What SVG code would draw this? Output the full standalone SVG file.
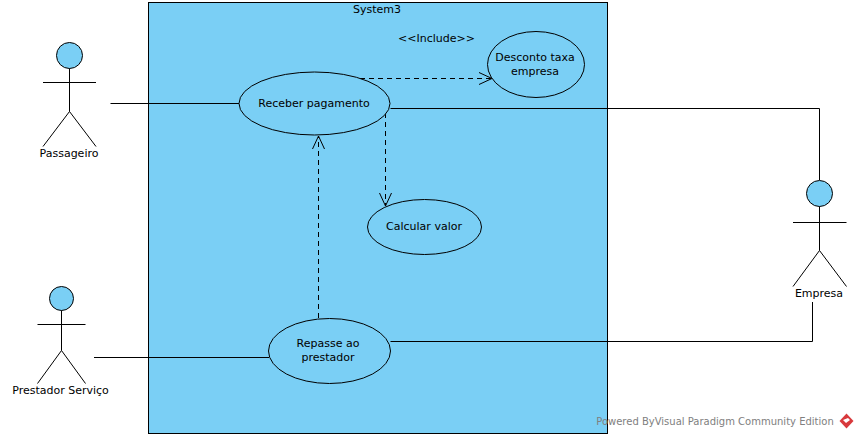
<svg xmlns="http://www.w3.org/2000/svg" width="858" height="438" viewBox="0 0 858 438">
<defs>
<style>
text{font-family:"DejaVu Sans",sans-serif;font-size:11px;fill:#000;text-anchor:middle}
.shape{fill:#7acff5;stroke:#000;stroke-width:1}
.stick{fill:none;stroke:#000;stroke-width:1}
.line{fill:none;stroke:#000;stroke-width:1}
.dash{fill:none;stroke:#000;stroke-width:1;stroke-dasharray:5 4}
</style>
<marker id="open" markerUnits="userSpaceOnUse" markerWidth="16" markerHeight="16" refX="14" refY="8" orient="auto">
<path d="M1 2 L14 8 L1 14" fill="none" stroke="#000" stroke-width="1"/>
</marker>
</defs>
<rect width="858" height="438" fill="#fff"/>
<g id="system3">
<rect class="shape" x="148.5" y="2.5" width="459" height="431"/>
<text x="377" y="13">System3</text>
</g>
<g id="connectors">
<path class="line" d="M110.5 103.5H240"/>
<path class="line" d="M94 357.5H269"/>
<path class="line" d="M390.5 108.5H819.5V180"/>
<path class="line" d="M390.5 341.5H812.5V302"/>
<path class="dash" d="M360 78.5H492" marker-end="url(#open)"/>
<path class="dash" d="M385.5 113V206" marker-end="url(#open)"/>
<path class="dash" d="M318.5 318V136" marker-end="url(#open)"/>
<text x="436.5" y="42">&lt;&lt;Include&gt;&gt;</text>
</g>
<g id="passageiro">
<circle class="shape" cx="69.5" cy="55.5" r="13"/>
<path class="stick" d="M69.5 68.5V111.5M43 82.5H96M43 146.5L69.5 111.5L96 146.5"/>
<text x="69" y="157">Passageiro</text>
</g>
<g id="prestador">
<circle class="shape" cx="61.5" cy="298.5" r="12"/>
<path class="stick" d="M61.5 310.5V350.5M37.5 324.5H85.5M37.5 383.5L61.5 350.5L85.5 383.5"/>
<text x="60.5" y="394">Prestador Serviço</text>
</g>
<g id="empresa">
<circle class="shape" cx="819.5" cy="193.5" r="13"/>
<path class="stick" d="M819.5 206.5V250.5M793 222.5H846.5M793 286.5L819.5 250.5L846.5 286.5"/>
<text x="819" y="297">Empresa</text>
</g>
<g id="receber">
<ellipse class="shape" cx="314.5" cy="103.5" rx="75.5" ry="31.5"/>
<text x="314" y="107">Receber pagamento</text>
</g>
<g id="desconto">
<ellipse class="shape" cx="536" cy="64.5" rx="48.5" ry="33"/>
<text x="535" y="61">Desconto taxa</text>
<text x="535" y="75">empresa</text>
</g>
<g id="calcular">
<ellipse class="shape" cx="424.5" cy="227" rx="57" ry="27.5"/>
<text x="424" y="230">Calcular valor</text>
</g>
<g id="repasse">
<ellipse class="shape" cx="329.5" cy="351" rx="61" ry="32.5"/>
<text x="328" y="347">Repasse ao</text>
<text x="328" y="361">prestador</text>
</g>
<g id="watermark">
<text x="715" y="425" style="fill:#808080;font-size:10px">Powered ByVisual Paradigm Community Edition</text>
<path d="M846.5 413.5L853.5 421L846.5 428.5L839.5 421Z" fill="#d8393c"/>
<path d="M843 420L848 418L850 420L846 423Z" fill="#fff"/>
</g>
</svg>
